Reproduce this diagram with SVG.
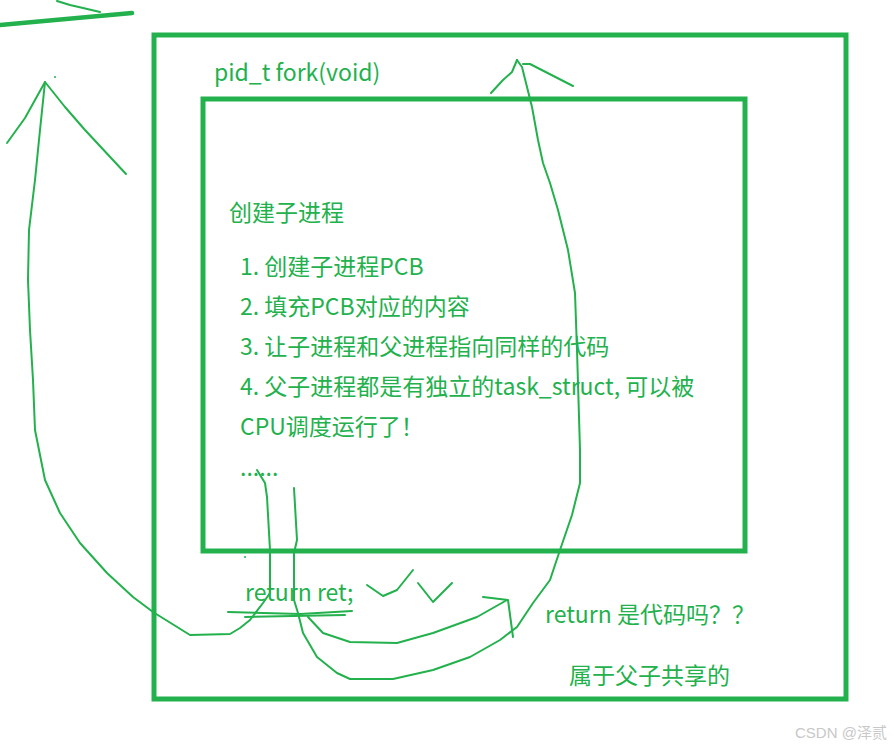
<svg xmlns="http://www.w3.org/2000/svg" width="894" height="747" viewBox="0 0 894 747">
<style>
.box{fill:none;stroke:#22b14c;stroke-width:5}
.ink{fill:none;stroke:#22b14c;stroke-width:2;stroke-linecap:round;stroke-linejoin:round}
.t{font-family:"Noto Sans CJK SC","Noto Sans",sans-serif;font-size:23px;fill:#22b14c}
.wm{font-family:"Liberation Sans","Noto Sans CJK SC",sans-serif;font-size:15px;fill:#c8c8c8}
</style>
<rect width="894" height="747" fill="#fff"/>
<g id="outer-box"><rect class="box" x="154" y="35" width="692" height="664"/>
<text class="t" x="214" y="81">pid_t fork(void)</text></g>
<g id="inner-box"><rect class="box" x="203" y="99" width="542" height="452"/>
<text class="t" x="229" y="221">创建子进程</text>
<text class="t" x="240" y="275">1. 创建子进程PCB</text>
<text class="t" x="240" y="315">2. 填充PCB对应的内容</text>
<text class="t" x="240" y="355">3. 让子进程和父进程指向同样的代码</text>
<text class="t" x="240" y="395">4. 父子进程都是有独立的task_struct, 可以被</text>
<text class="t" x="240" y="435">CPU调度运行了！</text>
<text class="t" x="240" y="476">......</text></g>
<g id="return"><text class="t" x="245" y="601">return ret;</text></g>
<g id="question"><text class="t" x="545" y="623">return 是代码吗？？</text></g>
<g id="answer"><text class="t" x="569" y="684">属于父子共享的</text></g>
<g id="connectors">
<path d="M0,25 L132,13" fill="none" stroke="#22b14c" stroke-width="4.5" stroke-linecap="round"/>
<path class="ink" d="M57,1 L70,5 L83,8 L100,12"/>
<path class="ink" d="M257,470 L265,483 L267,497 L270,550 L270,593 L263,603 L250,620 L240,628 L230,634 L190,635 L153,612 L133,597 L107,573 L80,543 L60,513 L45,480 L35,430 L33,380 L30,330 L28,280 L29,230 L35,180 L40,130 L45,82"/>
<path class="ink" d="M7,143 L25,118 L45,82 L65,107 L85,130 L126,174"/>
<circle cx="55" cy="77" r="1" fill="#22b14c"/>
<path class="ink" d="M294,488 L297,540 L294,553 L294,600 L298,613 L303,633 L317,657 L337,673 L350,679 L393,679 L433,670 L470,657 L500,640 L517,627 L533,603 L550,580 L560,550 L572,515 L580,483 L580,450 L577,350 L575,293 L568,250 L558,210 L550,183 L543,163 L538,140 L532,107 L527,87 L522,67 L517,60"/>
<path class="ink" d="M491,93 L503,80 L512,72 L517,60"/>
<path class="ink" d="M523,64 L530,64 L573,86"/>
<path class="ink" d="M308,617 L323,633 L350,642 L397,643 L433,633 L477,617 L507,600"/>
<path class="ink" d="M483,597 L508,600 L513,637"/>
<path class="ink" d="M367,585 L383,596 L397,590 L413,570"/>
<path class="ink" d="M418,583 L433,602 L452,583"/>
<path class="ink" d="M228,612 L300,614 L352,611"/>
<path class="ink" d="M245,617 L345,615"/>
<circle cx="245" cy="557" r="1" fill="#22b14c"/>
</g>
<g id="watermark"><text class="wm" x="795" y="738">CSDN @泽贰</text></g>
</svg>
